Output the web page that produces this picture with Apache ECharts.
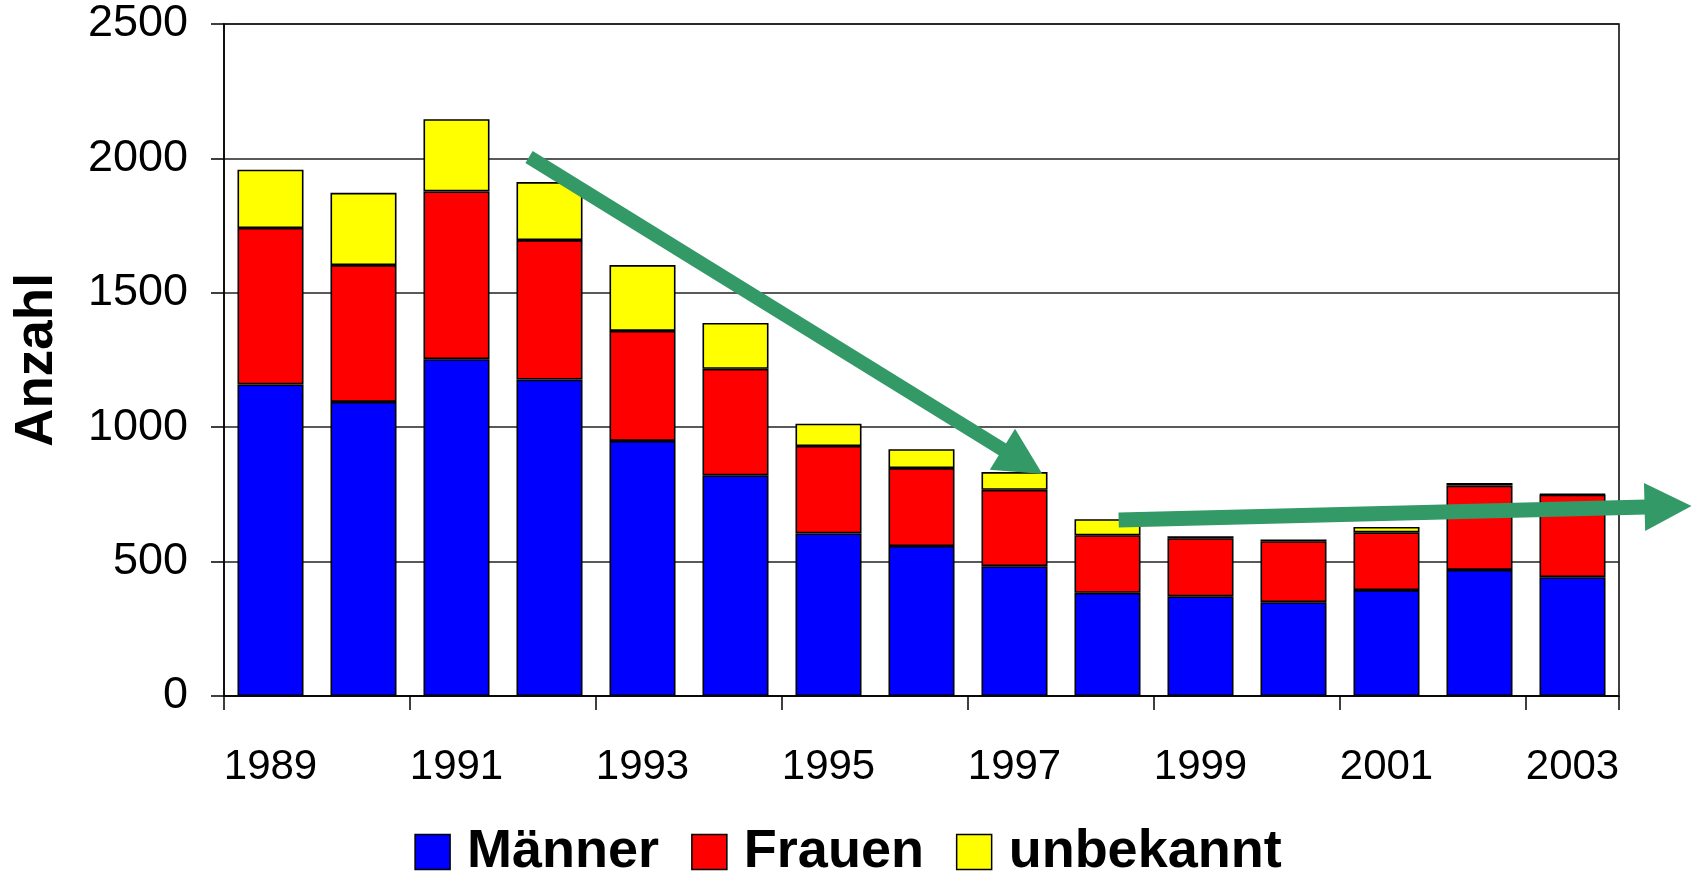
<!DOCTYPE html>
<html><head><meta charset="utf-8">
<script src="https://cdn.jsdelivr.net/npm/echarts@6/dist/echarts.min.js"></script>
<style>html,body{margin:0;padding:0;background:#fff}#c{width:1696px;height:876px}</style>
</head><body><div id="c"></div>
<script>
const years = ['1989','1990','1991','1992','1993','1994','1995','1996','1997','1998','1999','2000','2001','2002','2003'];
const maenner   = [1159,1094,1253,1177,949,821,605,558,483,384,371,349,394,469,442];
const frauen    = [582,509,624,519,409,396,325,290,284,214,216,227,215,314,307];
const unbekannt = [217,269,269,216,245,171,83,70,66,60,7,6,20,9,2];
const yMin = 0, yMax = 2500, yInterval = 500;
// trend arrows as [category index, value] anchors
const arrowDown = [[2.78, 2005], [8.30, 826]];
const arrowFlat = [[9.12, 655], [15.28, 707]];

const FONT = "'Liberation Sans', Arial, sans-serif";
const chart = echarts.init(document.getElementById('c'), null, {renderer:'canvas'});
const mk = (name, data, color) => ({
  name, type:'bar', stack:'total', data, barCategoryGap:'29%',
  itemStyle:{color, borderColor:'#000', borderWidth:1.6},
  emphasis:{disabled:true}
});
chart.setOption({
  animation:false,
  textStyle:{fontFamily:FONT},
  grid:{left:224, top:24, width:1395, height:672, show:true, borderColor:'#000', borderWidth:1.5, containLabel:false, outerBoundsMode:'none'},
  legend:{
    bottom:-8, left:'center', itemWidth:35, itemHeight:35, itemGap:32,
    icon:'rect',
    itemStyle:{borderColor:'#000', borderWidth:1.5},
    textStyle:{fontSize:54, fontWeight:'bold', color:'#000', fontFamily:FONT, padding:[0,0,0,12]},
    data:['Männer','Frauen','unbekannt']
  },
  xAxis:{
    type:'category', data:years,
    axisLine:{lineStyle:{color:'#000', width:1.5}},
    axisTick:{show:true, interval:1, length:14, alignWithLabel:false, lineStyle:{color:'#000', width:1.5}},
    axisLabel:{interval:1, fontSize:42, color:'#000', margin:50, fontFamily:FONT},
    splitLine:{show:false}
  },
  yAxis:{
    type:'value', min:yMin, max:yMax, interval:yInterval,
    name:'Anzahl', nameLocation:'middle', nameRotate:90, nameGap:160,
    nameTextStyle:{fontSize:53, fontWeight:'bold', color:'#000', fontFamily:FONT},
    axisLine:{show:true, lineStyle:{color:'#000', width:1.5}},
    axisTick:{show:true, length:13, lineStyle:{color:'#000', width:1.5}},
    axisLabel:{fontSize:45, color:'#000', margin:36, fontFamily:FONT, formatter:(v)=>String(v)},
    splitLine:{lineStyle:{color:'#222', width:1.5}}
  },
  series:[mk('Männer', maenner, '#0000FF'), mk('Frauen', frauen, '#FF0000'), mk('unbekannt', unbekannt, '#FFFF00')]
});

function px(pt){
  const x0 = chart.convertToPixel({xAxisIndex:0}, years[0]);
  const x1 = chart.convertToPixel({xAxisIndex:0}, years[1]);
  const y = chart.convertToPixel({yAxisIndex:0}, pt[1]);
  return [x0 + pt[0]*(x1-x0), y];
}
function arrow(a, headLen, headHalf, w){
  const p0 = px(a[0]), p1 = px(a[1]);
  const dx = p1[0]-p0[0], dy = p1[1]-p0[1], L = Math.hypot(dx,dy);
  const ux = dx/L, uy = dy/L, nx = -uy, ny = ux;
  const b = [p1[0]-ux*headLen, p1[1]-uy*headLen];
  return [
    {type:'polyline', z:100, shape:{points:[p0, [b[0]+ux*2, b[1]+uy*2]]}, style:{stroke:'#339966', lineWidth:w, fill:null, lineCap:'butt'}},
    {type:'polygon', z:100, shape:{points:[p1, [b[0]+nx*headHalf, b[1]+ny*headHalf], [b[0]-nx*headHalf, b[1]-ny*headHalf]]}, style:{fill:'#339966'}}
  ];
}
chart.setOption({graphic:[...arrow(arrowDown, 47, 24, 14), ...arrow(arrowFlat, 47, 24, 15)]});
</script>
</body></html>
